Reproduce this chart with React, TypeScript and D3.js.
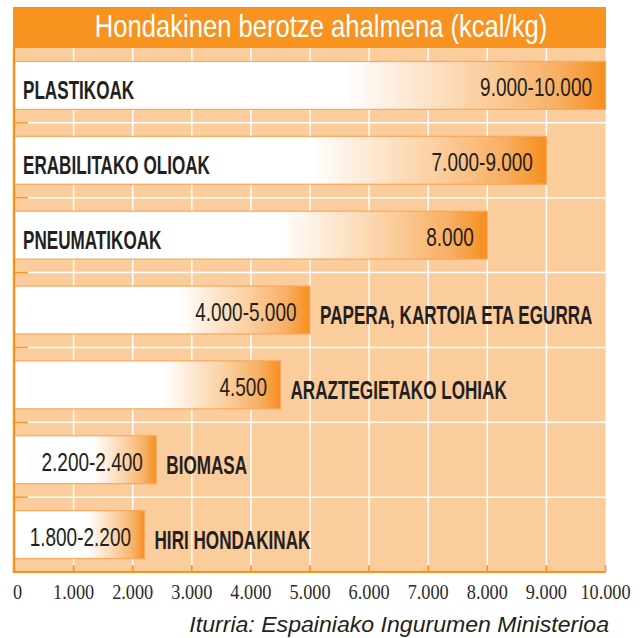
import React from "react";
import * as d3 from "d3";

const categories = [
  "PLASTIKOAK",
  "ERABILITAKO OLIOAK",
  "PNEUMATIKOAK",
  "PAPERA, KARTOIA ETA EGURRA",
  "ARAZTEGIETAKO LOHIAK",
  "BIOMASA",
  "HIRI HONDAKINAK",
];
const minValues = [9000, 7000, 8000, 4000, 4500, 2200, 1800];
const maxValues = [10000, 9000, 8000, 5000, 4500, 2400, 2200];
const tickValues = [0, 1000, 2000, 3000, 4000, 5000, 6000, 7000, 8000, 9000, 10000];
const title = "Hondakinen berotze ahalmena (kcal/kg)";
const source = "Iturria: Espainiako Ingurumen Ministerioa";

const W = 642;
const H = 638;
const ORANGE = "#F7931E";
const PEACH = "#FBCC9C";
const INK = "#231F20";

const locale = d3.formatLocale({ decimal: ",", thousands: ".", grouping: [3], currency: ["", "€"] });
const fmt = locale.format(",d");
const rangeLabel = (lo: number, hi: number) => (lo === hi ? fmt(hi) : `${fmt(lo)}-${fmt(hi)}`);

export default function App() {
  const plotTop = 48;
  const plotBottom = 572;
  const x = d3.scaleLinear().domain([0, 10000]).range([14.5, 605.5]);
  const y = d3
    .scaleBand<string>()
    .domain(categories)
    .range([plotTop, plotBottom])
    .paddingInner(0.36)
    .paddingOuter(0.18);
  const step = y.step();
  const bw = y.bandwidth();
  const boundaries = categories.slice(1).map((c) => (y(c) as number) - (step * 0.36) / 2);

  return (
    <svg
      width={W}
      height={H}
      viewBox={`0 0 ${W} ${H}`}
      style={{ position: "absolute", left: 0, top: 0, display: "block", background: "#fff" }}
    >
      <defs>
        <linearGradient id="barGrad" x1="0" x2="1" y1="0" y2="0">
          <stop offset="0" stopColor="#ffffff" />
          <stop offset="0.56" stopColor="#ffffff" />
          <stop offset="0.68" stopColor="#FDE6CE" />
          <stop offset="0.8" stopColor="#FBCD9C" />
          <stop offset="0.92" stopColor="#F8AF64" />
          <stop offset="1" stopColor="#F68E1C" />
        </linearGradient>
      </defs>

      {/* title bar */}
      <rect x={13} y={7} width={593} height={41} fill={ORANGE} />
      <text
        transform={`translate(321,37) scale(0.8,1)`}
        textAnchor="middle"
        fontFamily="'Liberation Sans', Arial, sans-serif"
        fontSize={32}
        fill="#fff"
      >
        {title}
      </text>

      {/* plot background */}
      <rect x={x(0)} y={plotTop} width={x(10000) - x(0)} height={plotBottom - plotTop} fill={PEACH} />

      {/* vertical white gridlines */}
      {tickValues.slice(1, -1).map((t) => (
        <line key={"g" + t} x1={x(t)} x2={x(t)} y1={plotTop} y2={plotBottom - 6} stroke="#fff" strokeWidth={1.5} />
      ))}
      {/* horizontal white separators */}
      {boundaries.map((b, i) => (
        <line key={"h" + i} x1={x(0)} x2={x(10000)} y1={b} y2={b} stroke="#fff" strokeWidth={1.5} />
      ))}

      {/* bars */}
      {categories.map((c, i) => {
        const y0 = y(c) as number;
        const xEnd = x(maxValues[i]);
        const cy = y0 + bw / 2;
        const inside = xEnd - x(0) > 400;
        return (
          <g key={c}>
            <rect
              x={x(0)}
              y={y0}
              width={xEnd - x(0)}
              height={bw}
              fill="url(#barGrad)"
              stroke="#F8A95E"
              strokeWidth={1.2}
            />
            <text
              transform={`translate(${xEnd - 13.5},${cy + 11}) scale(0.76,1)`}
              textAnchor="end"
              fontFamily="'Liberation Sans', Arial, sans-serif"
              fontSize={25}
              fill={INK}
            >
              {rangeLabel(minValues[i], maxValues[i])}
            </text>
            <text
              transform={`translate(${inside ? 23 : xEnd + 10},${cy + 14}) scale(0.685,1)`}
              textAnchor="start"
              fontFamily="'Liberation Sans', Arial, sans-serif"
              fontWeight="bold"
              fontSize={25}
              fill={INK}
            >
              {c}
            </text>
          </g>
        );
      })}

      {/* left axis */}
      <line x1={14} x2={14} y1={plotTop} y2={plotBottom + 1} stroke={ORANGE} strokeWidth={2.5} />
      {[...boundaries, plotBottom].map((b, i) => (
        <line key={"lt" + i} x1={13} x2={28} y1={b} y2={b} stroke={ORANGE} strokeWidth={1.5} />
      ))}
      {/* bottom axis */}
      <line x1={13} x2={x(10000)} y1={plotBottom} y2={plotBottom} stroke={ORANGE} strokeWidth={2} />
      {tickValues.slice(1).map((t) => (
        <line key={"t" + t} x1={x(t)} x2={x(t)} y1={plotBottom} y2={plotBottom - 7} stroke={ORANGE} strokeWidth={1.5} />
      ))}
      {tickValues.map((t, i) => (
        <text
          key={"l" + t}
          transform={`translate(${i === 0 ? 13 : x(t)},599) scale(0.83,1)`}
          textAnchor={i === 0 ? "start" : "middle"}
          fontFamily="'Liberation Serif', 'Times New Roman', serif"
          fontSize={22}
          fill="#2b2b2b"
        >
          {fmt(t)}
        </text>
      ))}

      {/* source */}
      <text
        transform={`translate(609,632) scale(1.05,1)`}
        textAnchor="end"
        fontFamily="'Liberation Sans', Arial, sans-serif"
        fontStyle="italic"
        fontSize={22}
        fill={INK}
      >
        {source}
      </text>
    </svg>
  );
}
